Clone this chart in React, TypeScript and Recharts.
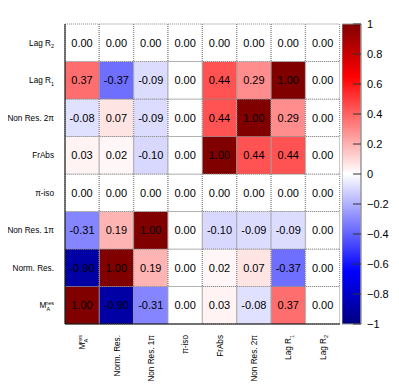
import React from "react";
import {
  BarChart,
  Bar,
  XAxis,
  YAxis,
  Cell,
  LabelList,
} from "recharts";

// parameter order, bottom row / left column first
const params = ["MA", "Norm. Res.", "Non Res. 1π", "π-iso", "FrAbs", "Non Res. 2π", "LagR1", "LagR2"];

// correlation rows (row i = params[i], across columns)
const corrMA = [1.0, -0.9, -0.31, 0.0, 0.03, -0.08, 0.37, 0.0];
const corrNormRes = [-0.9, 1.0, 0.19, 0.0, 0.02, 0.07, -0.37, 0.0];
const corrNonRes1pi = [-0.31, 0.19, 1.0, 0.0, -0.1, -0.09, -0.09, 0.0];
const corrPiIso = [0.0, 0.0, 0.0, 0.0, 0.0, 0.0, 0.0, 0.0];
const corrFrAbs = [0.03, 0.02, -0.1, 0.0, 1.0, 0.44, 0.44, 0.0];
const corrNonRes2pi = [-0.08, 0.07, -0.09, 0.0, 0.44, 1.0, 0.29, 0.0];
const corrLagR1 = [0.37, -0.37, -0.09, 0.0, 0.44, 0.29, 1.0, 0.0];
const corrLagR2 = [0.0, 0.0, 0.0, 0.0, 0.0, 0.0, 0.0, 0.0];

const rows = [corrMA, corrNormRes, corrNonRes1pi, corrPiIso, corrFrAbs, corrNonRes2pi, corrLagR1, corrLagR2];

const rowTicks = [0.5, 1.5, 2.5, 3.5, 4.5, 5.5, 6.5, 7.5];
const paletteTicks = [-1, -0.8, -0.6, -0.4, -0.2, 0, 0.2, 0.4, 0.6, 0.8, 1];

// one entry per column; each row is a stacked unit cell
const table = params.map((name, j) => {
  const d: Record<string, any> = { name };
  rows.forEach((r, i) => {
    d[`c${i}`] = 1;
    d[`v${i}`] = r[j];
  });
  return d;
});

const paletteData = [{ name: "z", range: [-1, 1] }];

const FONT = "'Liberation Sans', Arial, Helvetica, sans-serif";
const LABEL_SIZE = 8.2;

const stops: [number, number[]][] = [
  [-1, [0, 0, 128]],
  [-0.65, [0, 0, 255]],
  [0, [255, 255, 255]],
  [0.65, [255, 0, 0]],
  [1, [128, 0, 0]],
];

function corrColor(v: number) {
  for (let k = 0; k < stops.length - 1; k++) {
    const [a, ca] = stops[k];
    const [b, cb] = stops[k + 1];
    if (v >= a && v <= b) {
      const t = (v - a) / (b - a);
      const c = ca.map((x, n) => Math.round(x + (cb[n] - x) * t));
      return `rgb(${c[0]},${c[1]},${c[2]})`;
    }
  }
  return "#fff";
}

function ParamLabel({ name }: { name: string }) {
  if (name === "MA")
    return (
      <>
        M
        <tspan fontSize={5.5} dy={2.5}>A</tspan>
        <tspan fontSize={5.5} dx={-3.7} dy={-6}>res</tspan>
      </>
    );
  if (name === "LagR1" || name === "LagR2")
    return (
      <>
        Lag R
        <tspan fontSize={5.5} dy={2.5}>{name.slice(-1)}</tspan>
      </>
    );
  return <>{name}</>;
}

const YTick = (props: any) => {
  const { x, y, payload } = props;
  const name = params[Math.floor(payload.value)];
  return (
    <text x={x - 11} y={y + 3} textAnchor="end" fontSize={LABEL_SIZE} fontFamily={FONT} fill="#000">
      <ParamLabel name={name} />
    </text>
  );
};

const XTick = (props: any) => {
  const { x, y, payload } = props;
  return (
    <g transform={`translate(${x + 3},${y + 11}) rotate(-90)`}>
      <text x={0} y={0} textAnchor="end" fontSize={LABEL_SIZE} fontFamily={FONT} fill="#000">
        <ParamLabel name={payload.value} />
      </text>
    </g>
  );
};

const PaletteTick = (props: any) => {
  const { x, y, payload } = props;
  const v = payload.value as number;
  const txt = v === 0 ? "0" : v > 0 ? String(v) : "\u2212" + String(-v);
  return (
    <g>
      <line x1={x - 8} x2={x} y1={y} y2={y} stroke="#333" />
      <text x={x + 6} y={y + 4} fontSize={11} fontFamily={FONT} fill="#000">
        {txt}
      </text>
    </g>
  );
};

export default function App() {
  return (
    <div style={{ position: "relative", width: 399, height: 390, margin: -8, background: "#fff" }}>
      <BarChart
        width={399}
        height={390}
        data={table}
        margin={{ top: 24, right: 59, bottom: 0, left: 0 }}
        barCategoryGap={0}
        barGap={0}
      >
        <XAxis
          dataKey="name"
          height={66}
          tickLine={false}
          tickSize={0}
          tickMargin={0}
          axisLine={{ stroke: "#000" }}
          tick={<XTick />}
          interval={0}
        />
        <XAxis xAxisId="top" dataKey="name" orientation="top" height={0} tick={false} tickLine={false} axisLine={{ stroke: "#000" }} />
        <YAxis
          type="number"
          domain={[0, 8]}
          ticks={rowTicks}
          width={65}
          tickLine={false}
          tickSize={0}
          tickMargin={0}
          axisLine={{ stroke: "#000" }}
          tick={<YTick />}
          interval={0}
        />
        <YAxis yAxisId="right" orientation="right" type="number" domain={[0, 8]} width={0} tick={false} tickLine={false} axisLine={{ stroke: "#000" }} />
        {rows.map((r, i) => (
          <Bar
            key={i}
            dataKey={`c${i}`}
            stackId="m"
            isAnimationActive={false}
            stroke="#8a8a8a"
            strokeWidth={1}
            strokeDasharray="1 1"
          >
            {table.map((d, j) => (
              <Cell key={j} fill={corrColor(d[`v${i}`])} />
            ))}
            <LabelList
              dataKey={`v${i}`}
              position="center"
              formatter={(v: any) => Number(v).toFixed(2)}
              style={{ fontSize: 11, fontFamily: FONT, fill: "#000" }}
            />
          </Bar>
        ))}
      </BarChart>
      <div style={{ position: "absolute", left: 342, top: 0 }}>
        <BarChart
          width={57}
          height={390}
          data={paletteData}
          margin={{ top: 24, right: 0, bottom: 66, left: 0 }}
          barCategoryGap={0}
        >
          <defs>
            <linearGradient id="palette" x1="0" y1="0" x2="0" y2="1">
              <stop offset="0%" stopColor="#800000" />
              <stop offset="17.5%" stopColor="#ff0000" />
              <stop offset="50%" stopColor="#ffffff" />
              <stop offset="82.5%" stopColor="#0000ff" />
              <stop offset="100%" stopColor="#000080" />
            </linearGradient>
          </defs>
          <XAxis dataKey="name" hide />
          <YAxis
            orientation="right"
            type="number"
            domain={[-1, 1]}
            ticks={paletteTicks}
            width={38}
            tickLine={false}
            tickSize={0}
            tickMargin={0}
            axisLine={{ stroke: "#999" }}
            tick={<PaletteTick />}
            interval={0}
          />
          <Bar dataKey="range" fill="url(#palette)" stroke="#999" isAnimationActive={false} />
        </BarChart>
      </div>
    </div>
  );
}
